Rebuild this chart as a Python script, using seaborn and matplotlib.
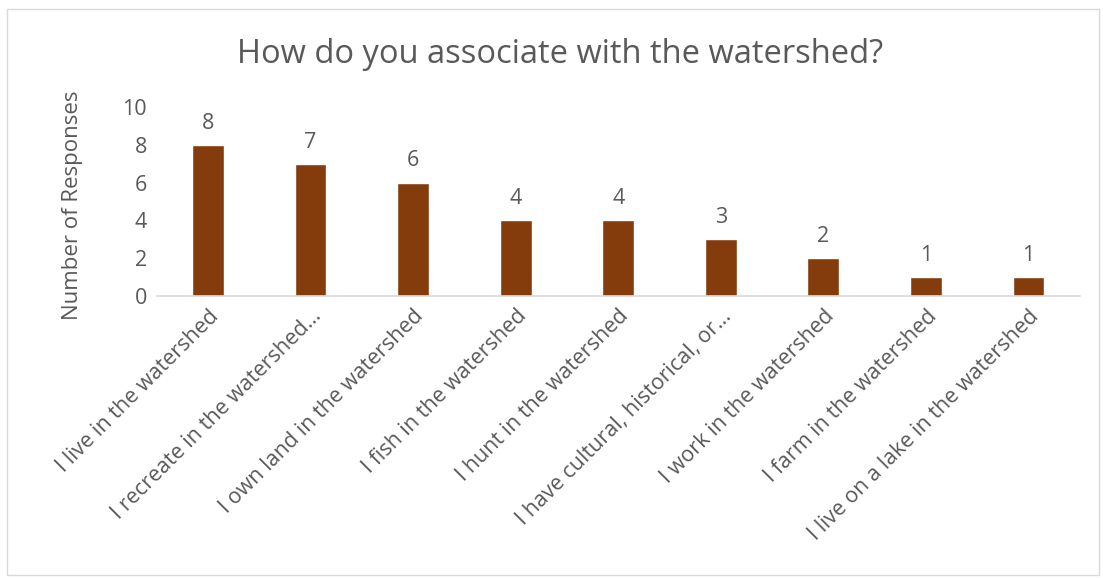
import matplotlib
matplotlib.use("Agg")
import matplotlib.pyplot as plt
import seaborn as sns
import pandas as pd
from matplotlib.patches import Rectangle

categories = [
    "I live in the watershed",
    "I recreate in the watershed…",
    "I own land in the watershed",
    "I fish in the watershed",
    "I hunt in the watershed",
    "I have cultural, historical, or…",
    "I work in the watershed",
    "I farm in the watershed",
    "I live on a lake in the watershed",
]
values = [8, 7, 6, 4, 4, 3, 2, 1, 1]
yticks = [0, 2, 4, 6, 8, 10]

sns.set_theme(style="white")
plt.rcParams['font.family'] = ['Open Sans', 'DejaVu Sans']
text_color = "#595959"

df = pd.DataFrame({"cat": categories, "val": values})

fig = plt.figure(figsize=(11.03, 5.78), dpi=100)
ax = fig.add_axes([0.142, 0.488, 0.837, 0.327])
sns.barplot(data=df, x="cat", y="val", color="#843C0C", width=0.31,
            saturation=1, ax=ax)

ax.set_ylim(0, 10)
ax.set_yticks(yticks)
ax.set_yticklabels([str(t) for t in yticks], fontsize=15.5, color=text_color)
ax.set_xlim(-0.5, len(categories) - 0.5)
ax.set_xticks(range(len(categories)))
ax.set_xticklabels(categories, rotation=45, ha="right", rotation_mode="anchor",
                   fontsize=15.5, color=text_color)
ax.tick_params(axis="y", length=0, pad=7)
ax.tick_params(axis="x", length=0, pad=7)
ax.set_xlabel("")
ax.set_ylabel("Number of Responses", fontsize=16, color=text_color)
ax.yaxis.set_label_coords(-0.08, 0.48)

for s in ["top", "right", "left"]:
    ax.spines[s].set_visible(False)
ax.spines["bottom"].set_color("#D9D9D9")
ax.spines["bottom"].set_linewidth(1.2)

for i, v in enumerate(values):
    ax.annotate(str(v), (i, v), xytext=(0, 8), textcoords="offset points",
                ha="center", va="bottom", fontsize=15.5, color=text_color)

fig.text(0.508, 0.905, "How do you associate with the watershed?", ha="center",
         va="center", fontsize=23.5, color=text_color)

fig.patches.append(Rectangle((0.006, 0.005), 0.99, 0.98, transform=fig.transFigure,
                             fill=False, edgecolor="#D9D9D9", linewidth=1))

fig.savefig("out.png", dpi=100)
